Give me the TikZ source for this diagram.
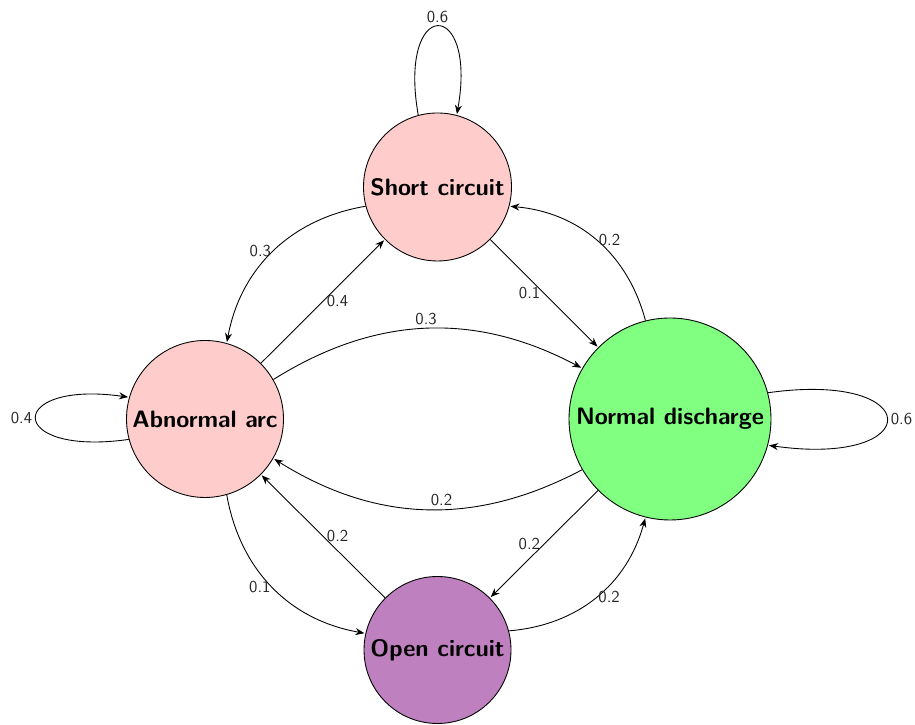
\documentclass[tikz,border=0pt]{standalone}
\usepackage{tikz}
\usepackage{xcolor}
\usetikzlibrary{
    arrows.meta,
    positioning,
    calc
}
\definecolor{shortfill}{HTML}{FFCCCC}
\definecolor{arcfill}{HTML}{FFCCCC}
\definecolor{normalfill}{HTML}{80FF80}
\definecolor{openfill}{HTML}{BF80BF}
\tikzset{
    % Circle for one discharge condition
    condition/.style={
        circle,
        draw=black,
        fill=#1,
        line width=0.5pt,
        inner sep=1pt,
        align=center,
        font=\fontsize{13.5}{16}\selectfont\sffamily\bfseries
    },
    % Transition arrow
    flow/.style={
        -{Stealth[length=1.8mm, width=1.4mm]},
        line width=0.5pt,
        shorten >=0.6pt,
        color=black
    },
    % Probability label
    prob text/.style={
        font=\fontsize{9.5}{11}\selectfont\sffamily,
        text=black!85,
        inner sep=2pt
    }
}

\begin{document}
\begin{tikzpicture}
        \useasboundingbox (0,0) rectangle (18.3,14.5);

        % Conditions
        \node[condition=shortfill, minimum size=2.96cm] (short) at (8.75, 10.76) {Short circuit};
        \node[condition=arcfill, minimum size=3.14cm] (arc) at (4.10, 6.12) {Abnormal arc};
        \node[condition=normalfill, minimum size=4.04cm] (normal) at (13.40, 6.12) {Normal discharge};
        \node[condition=openfill, minimum size=2.94cm] (open) at (8.75, 1.50) {Open circuit};

        % Self loops
        \draw[flow] (short.105) to[out=100, in=80, distance=2.4cm] node[prob text, above] {0.6} (short.75);
        \draw[flow] (arc.195) to[out=188, in=172, distance=2.5cm] node[prob text, left] {0.4} (arc.164);
        \draw[flow] (normal.15) to[out=8, in=-8, distance=3.2cm] node[prob text, right] {0.6} (normal.-15);

        % Outer curves
        \draw[flow] (short.195) to[bend right=35] node[prob text, left, inner sep=1pt] {0.3} (arc.74);
        \draw[flow] (arc.286) to[bend right=35] node[prob text, left, inner sep=1pt] {0.1} (open.167);
        \draw[flow] (open.15) to[bend right=35] node[prob text, right, inner sep=1pt] {0.2} (normal.256);
        \draw[flow] (normal.104) to[bend right=35] node[prob text, right, inner sep=1pt] {0.2} (short.345);

        % Straight diagonals
        \draw[flow] (arc) -- node[prob text, right] {0.4} (short);
        \draw[flow] (short) -- node[prob text, left] {0.1} (normal);
        \draw[flow] (normal) -- node[prob text, left] {0.2} (open);
        \draw[flow] (open) -- node[prob text, right] {0.2} (arc);

        % Middle curves
        \draw[flow] (arc.30) to[bend left=30] node[prob text, above] {0.3} (normal.150);
        \draw[flow] (normal.210) to[bend left=30] node[prob text, above, pos=0.45] {0.2} (arc.330);

    \end{tikzpicture}
\end{document}
